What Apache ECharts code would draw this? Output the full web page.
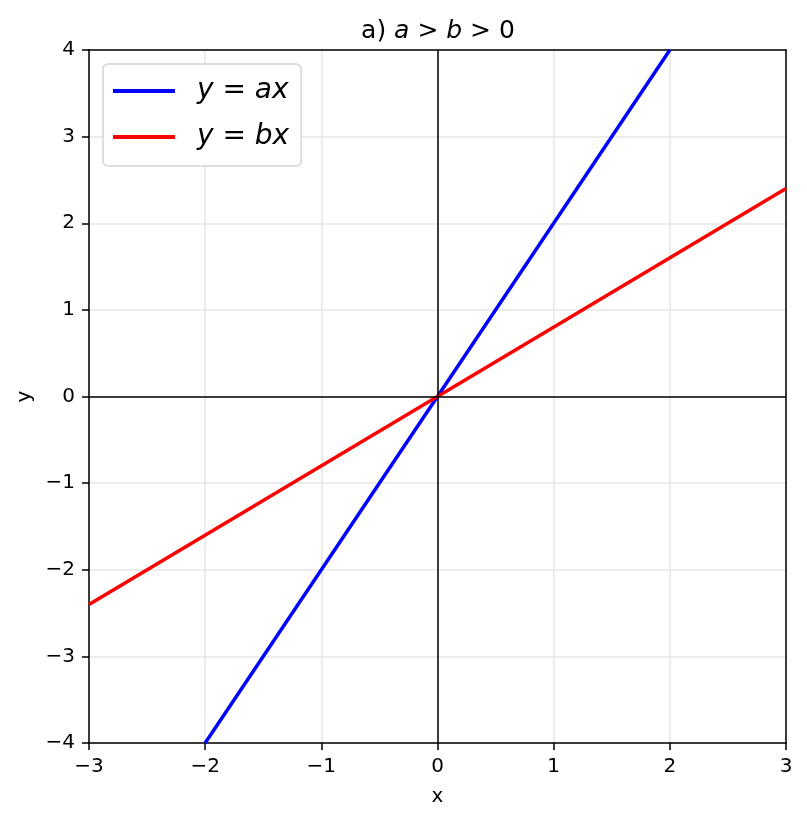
<!DOCTYPE html>
<html><head><meta charset="utf-8">
<script src="https://cdn.jsdelivr.net/npm/echarts@6/dist/echarts.min.js"></script>
<style>html,body{margin:0;padding:0;background:#fff}#c{width:807px;height:821px}</style>
</head><body><div id="c"></div>
<script>
// Data
const blueX = [-2, 0, 2];
const blueY = [-4, 0, 4];          // y = a x
const redX = [-3, 0, 3];
const redY = [-2.4, 0, 2.4];       // y = b x
const xTicks = [-3, -2, -1, 0, 1, 2, 3];
const yTicks = [-4, -3, -2, -1, 0, 1, 2, 3, 4];
const seriesNames = ['y = ax', 'y = bx'];

const F = 'DejaVu Sans';
const fmt = v => (v < 0 ? '\u2212' + Math.abs(v) : String(v));
const pairs = (xs, ys) => xs.map((x, i) => [x, ys[i]]);
const frameAxis = {
  type: 'value', axisLine: {show: true, onZero: false, lineStyle: {color: '#000', width: 1.5}},
  axisTick: {show: false}, axisLabel: {show: false}, splitLine: {show: false}
};

const chart = echarts.init(document.getElementById('c'), null, {renderer: 'canvas'});
chart.setOption({
  animation: false,
  backgroundColor: '#fff',
  title: {
    text: 'a) {i|a} > {i|b} > 0',
    left: 438, top: 19, textAlign: 'center', padding: 0,
    textStyle: {fontFamily: F, fontSize: 25, fontWeight: 'normal', color: '#000',
      rich: {i: {fontFamily: F, fontSize: 25, fontStyle: 'italic', color: '#000'}}}
  },
  grid: {left: 89, right: 21, top: 50, bottom: 78, show: false},
  legend: {
    left: 103, top: 64, orient: 'vertical',
    backgroundColor: '#fff', borderColor: '#d4d4d4', borderWidth: 1.5, borderRadius: 5,
    padding: [13, 12, 15, 10], itemGap: 18, itemWidth: 62, itemHeight: 4,
    icon: 'rect',
    data: seriesNames,
    formatter: n => n === 'y = ax' ? '{i|y} = {i|ax}' : '{i|y} = {i|bx}',
    textStyle: {fontFamily: F, fontSize: 28, color: '#000', padding: [0, 0, 0, 17],
      rich: {i: {fontFamily: F, fontSize: 28, fontStyle: 'italic', color: '#000'}}}
  },
  xAxis: [{
    type: 'value', min: -3, max: 3, interval: 1,
    name: 'x', nameLocation: 'middle', nameGap: 44,
    nameTextStyle: {fontFamily: F, fontSize: 20, color: '#000'},
    axisLine: {show: true, onZero: false, lineStyle: {color: '#000', width: 1.5}},
    axisTick: {show: true, length: 7, lineStyle: {color: '#000', width: 1.5}},
    axisLabel: {fontFamily: F, fontSize: 20, color: '#000', margin: 14, formatter: fmt},
    splitLine: {show: true, lineStyle: {color: '#e6e6e6', width: 1.5}}
  }, Object.assign({position: 'top', min: -3, max: 3}, frameAxis)],
  yAxis: [{
    type: 'value', min: -4, max: 4, interval: 1,
    name: 'y', nameLocation: 'middle', nameGap: 52, nameRotate: 90,
    nameTextStyle: {fontFamily: F, fontSize: 20, color: '#000'},
    axisLine: {show: true, onZero: false, lineStyle: {color: '#000', width: 1.5}},
    axisTick: {show: true, length: 7, lineStyle: {color: '#000', width: 1.5}},
    axisLabel: {fontFamily: F, fontSize: 20, color: '#000', margin: 14, formatter: fmt},
    splitLine: {show: true, lineStyle: {color: '#e6e6e6', width: 1.5}}
  }, Object.assign({position: 'right', min: -4, max: 4}, frameAxis)],
  series: [
    {
      name: seriesNames[0], type: 'line', data: pairs(blueX, blueY), showSymbol: false, symbol: 'none',
      lineStyle: {color: '#0000ff', width: 3.5}, itemStyle: {color: '#0000ff'}, clip: true, z: 3,
      markLine: {
        silent: true, symbol: 'none', label: {show: false},
        lineStyle: {color: '#000', width: 1.5, type: 'solid'},
        data: [{xAxis: 0}, {yAxis: 0}]
      }
    },
    {
      name: seriesNames[1], type: 'line', data: pairs(redX, redY), showSymbol: false, symbol: 'none',
      lineStyle: {color: '#ff0000', width: 3.5}, itemStyle: {color: '#ff0000'}, clip: true, z: 3
    }
  ]
});
</script></body></html>
